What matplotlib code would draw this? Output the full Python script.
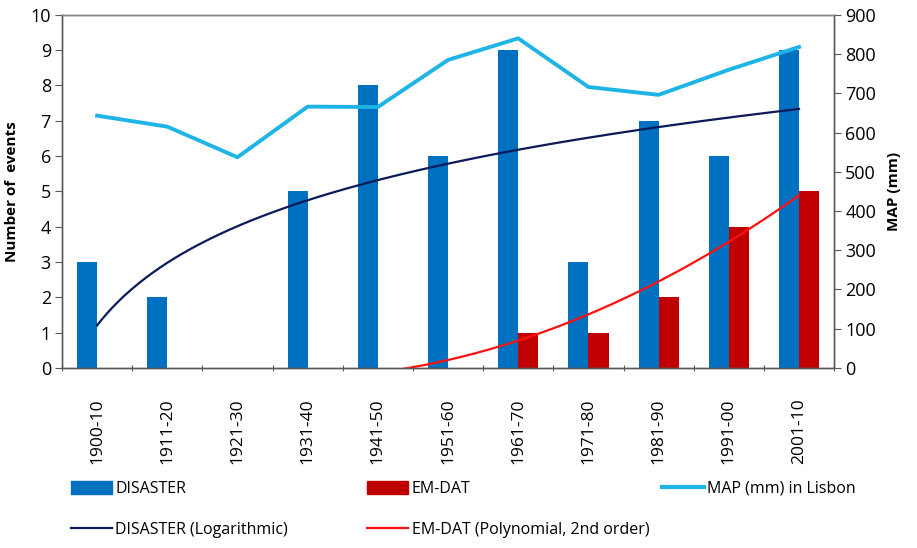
import numpy as np
import matplotlib
matplotlib.use('Agg')
import matplotlib.pyplot as plt
from matplotlib.patches import Patch
from matplotlib.lines import Line2D

plt.rcParams['font.family'] = ['Open Sans', 'DejaVu Sans']

decades = ['1900-10', '1911-20', '1921-30', '1931-40', '1941-50', '1951-60',
           '1961-70', '1971-80', '1981-90', '1991-00', '2001-10']
disaster = [3, 2, 0, 5, 8, 6, 9, 3, 7, 6, 9]
emdat = [0, 0, 0, 0, 0, 0, 1, 1, 2, 4, 5]
map_mm = [643, 615, 537, 666, 665, 785, 840, 716, 696, 760, 818]

c_dis = '#0070C0'
c_em = '#C00000'
c_map = '#1EB4E6'
c_log = '#0C1A5C'
c_poly = '#FF1010'
c_axis = '#595959'

fig = plt.figure(figsize=(9.17, 5.48), dpi=100)
ax = fig.add_axes([0.0676, 0.3285, 0.842, 0.6445])
ax2 = ax.twinx()

x = np.arange(len(decades))
w = 0.286
ax.bar(x - w / 2, disaster, w, color=c_dis, zorder=2)
ax.bar(x + w / 2, emdat, w, color=c_em, zorder=2)

# trendlines fitted like Excel does (x = 1..n)
xn = x + 1.0
a, b = np.polyfit(np.log(xn), disaster, 1)
p = np.polyfit(xn, emdat, 2)
xf = np.linspace(1, len(decades), 300)
ax.plot(xf - 1, a * np.log(xf) + b, color=c_log, lw=1.6, zorder=3)
# polynomial trend: only the rising branch is shown in the original
x0 = max(1.0, -p[1] / (2 * p[0]))
xp = np.linspace(x0, len(decades), 300)
ax.plot(xp - 1, np.polyval(p, xp), color=c_poly, lw=1.6, zorder=3)

ax2.plot(x, map_mm, color=c_map, lw=2.8, zorder=4)

ax.set_xlim(-0.5, len(decades) - 0.5)
ax.set_ylim(0, 10)
ax2.set_ylim(0, 900)
ax.set_yticks(range(0, 11))
ax2.set_yticks(range(0, 901, 100))

ax.set_xticks(np.arange(-0.5, len(decades), 1.0))
ax.set_xticklabels([])
ax.set_xticks(x, minor=True)
ax.set_xticklabels(decades, minor=True, rotation=90, fontsize=12.5)
ax.tick_params(axis='x', which='minor', length=0, pad=22)
ax.tick_params(axis='x', which='major', length=5, direction='inout', color=c_axis)
ax.tick_params(axis='y', labelsize=13, length=5, color=c_axis, pad=3)
ax2.tick_params(axis='y', labelsize=13, length=5, color=c_axis, pad=3)

for a_ in (ax, ax2):
    for s in a_.spines.values():
        s.set_color(c_axis)
        s.set_linewidth(1.0)
ax2.spines['top'].set_color('#888888')

ax.set_ylabel('Number of  events', fontsize=11, fontweight='bold', labelpad=8)
ax2.set_ylabel('MAP (mm)', fontsize=11, fontweight='bold', labelpad=8)

leg_items = [
    (Patch(color=c_dis), 'DISASTER', 0.077, 0.108),
    (Patch(color=c_em), 'EM-DAT', 0.400, 0.108),
    (Line2D([], [], color=c_map, lw=3), 'MAP (mm) in Lisbon', 0.722, 0.108),
    (Line2D([], [], color=c_log, lw=1.6), 'DISASTER (Logarithmic)', 0.077, 0.033),
    (Line2D([], [], color=c_poly, lw=1.6), 'EM-DAT (Polynomial, 2nd order)', 0.400, 0.033),
]
for h, lab, lx, ly in leg_items:
    fig.legend([h], [lab], loc='center left', bbox_to_anchor=(lx, ly),
               frameon=False, fontsize=11.5, handlelength=2.6, handleheight=0.9,
               handletextpad=0.2, borderpad=0, borderaxespad=0)

fig.savefig('out.png', dpi=100)
